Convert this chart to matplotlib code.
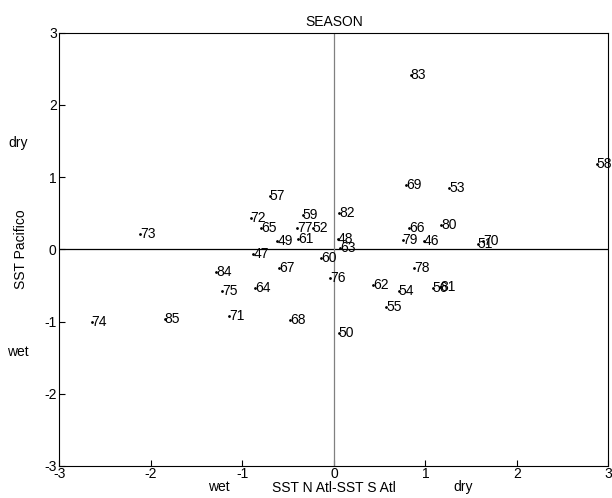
import matplotlib.pyplot as plt

plt.rcParams['font.family'] = ['Liberation Sans', 'DejaVu Sans']
plt.rcParams['axes.unicode_minus'] = False

# year labels and positions (SST N Atl - SST S Atl, SST Pacifico)
years = ["73", "57", "72", "65", "59", "77", "52", "49", "61", "47", "60", "67",
         "84", "75", "64", "71", "85", "74", "68", "83", "58", "69", "53", "82",
         "66", "80", "48", "79", "46", "63", "70", "51", "76", "78", "62", "54",
         "56", "81", "55", "50"]
atl = [-2.12, -0.70, -0.91, -0.80, -0.34, -0.40, -0.23, -0.62, -0.39, -0.88, -0.14, -0.60,
       -1.29, -1.22, -0.86, -1.15, -1.85, -2.65, -0.48, 0.84, 2.87, 0.79, 1.26, 0.06,
       0.82, 1.17, 0.04, 0.75, 0.98, 0.07, 1.63, 1.57, -0.04, 0.88, 0.43, 0.71,
       1.08, 1.16, 0.57, 0.05]
pac = [0.21, 0.74, 0.44, 0.30, 0.47, 0.30, 0.30, 0.12, 0.15, -0.06, -0.12, -0.26,
       -0.31, -0.58, -0.54, -0.92, -0.97, -1.00, -0.98, 2.41, 1.18, 0.89, 0.85, 0.51,
       0.30, 0.34, 0.14, 0.13, 0.12, 0.02, 0.12, 0.07, -0.39, -0.26, -0.49, -0.57,
       -0.53, -0.52, -0.80, -1.16]

fig = plt.figure(figsize=(6.12, 4.98), dpi=100)
ax = fig.add_axes([0.0972, 0.0643, 0.897, 0.870])

ax.axhline(0, color='black', lw=0.9)
ax.axvline(0, color='gray', lw=0.9)
ax.plot(atl, pac, '.', color='black', markersize=2)
for x, y, s in zip(atl, pac, years):
    ax.text(x, y, s, ha='left', va='center', fontsize=10)

ax.set_xlim(-3, 3)
ax.set_ylim(-3, 3)
ax.set_xticks(range(-3, 4))
ax.set_yticks(range(-3, 4))
ax.tick_params(direction='in', length=4, labelsize=10)
ax.tick_params(axis='x', pad=1)
ax.tick_params(axis='y', pad=2)
ax.set_title("SEASON", fontsize=10, pad=5)
ax.set_xlabel("SST N Atl-SST S Atl", fontsize=10, labelpad=0)
ax.set_ylabel("SST Pacifico", fontsize=10, labelpad=12)

ax.text(-3.45, 1.47, "dry", ha='center', va='center', fontsize=10, clip_on=False)
ax.text(-3.45, -1.42, "wet", ha='center', va='center', fontsize=10, clip_on=False)
ax.text(-1.26, -3.29, "wet", ha='center', va='center', fontsize=10, clip_on=False)
ax.text(1.41, -3.29, "dry", ha='center', va='center', fontsize=10, clip_on=False)

fig.savefig("out.png", dpi=100)
